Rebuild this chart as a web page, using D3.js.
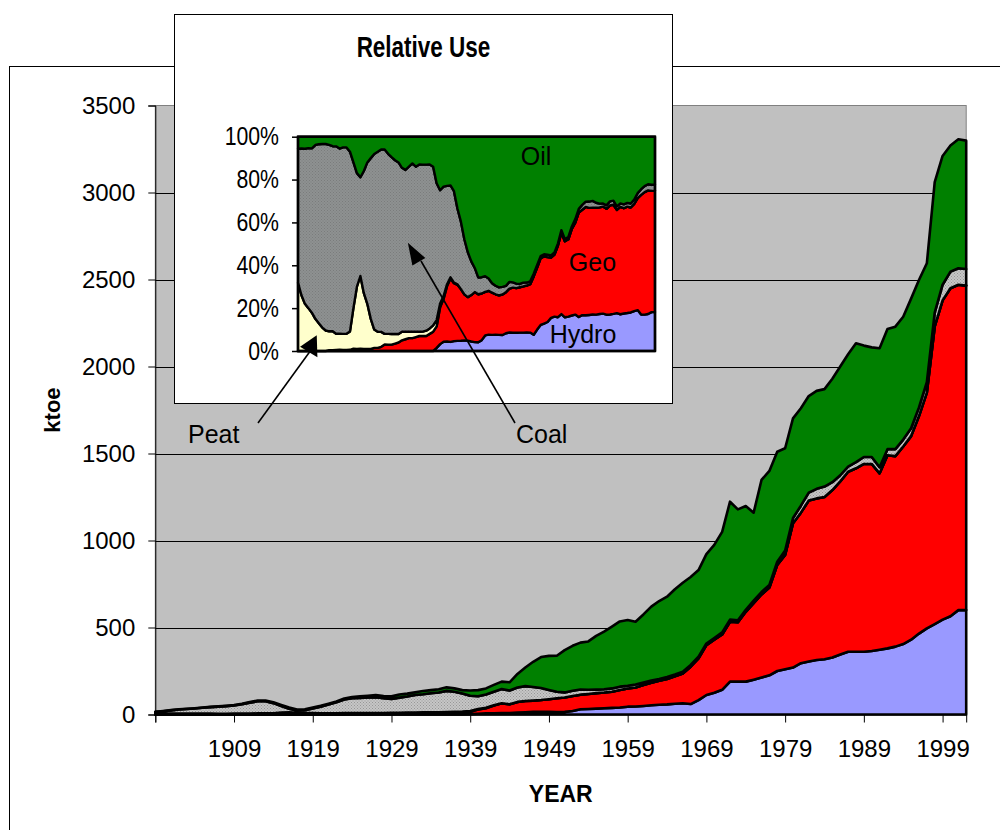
<!DOCTYPE html>
<html lang="en">
  <head>
    <meta charset="UTF-8" />
    <title>Energy use by source – ktoe</title>
    <script src="https://d3js.org/d3.v7.min.js"></script>
    <style>
      body {
        margin: 0;
        background: #fff;
      }
      svg {
        display: block;
      }
      text {
        font-family: 'Liberation Sans', Arial, sans-serif;
        fill: #000;
      }
    </style>
  </head>
  <body>
    <svg width="1000" height="830"></svg>

    <script>
      // yearly values, ktoe, 1899 - 2002
      const years = d3.range(1899, 2003);

      const hydro = [
        0, 0, 0, 0, 0, 0, 0, 0, 0, 0, 0, 0, 0, 0, 0, 0, 0, 0, 0, 0,
        0, 0, 0, 0, 0, 0, 0, 0, 0, 0, 0, 0, 0, 0, 0, 0, 0, 0, 0, 0,
        2, 4.5, 6.5, 7.5, 8, 8.5, 11, 13, 15, 16,
        15, 14, 15, 20, 30, 32, 34, 36, 38, 40,
        45, 46, 49, 53, 56, 58, 62, 65, 60, 83,
        112, 125, 142, 189, 189, 189, 200, 212, 225, 250,
        260, 270, 295, 305, 313, 318, 328, 345, 361, 361,
        361, 365, 372, 380, 390, 405, 430, 465, 495, 520,
        545, 565, 600, 600,
      ];

      const geo = [
        0, 0, 0, 0, 0, 0, 0, 0, 0,
        0.2, 0.2, 0.3, 0.4, 0.4, 0.4, 0.4, 0.6, 0.4, 0.3,
        0.3, 0.4, 0.5, 0.9, 1.1, 1.8, 3.0, 3.1, 3.2, 3.9,
        4.2, 5.2, 6.3, 7.2, 7.7, 8.8, 9.8, 10.2, 10.9, 12.0,
        12.6, 13.8, 24, 30, 44, 56, 50, 61, 65, 65,
        67, 73, 79, 83, 86, 84, 86, 89, 90, 93,
        101, 104, 109, 121, 129, 138, 146, 158, 171, 215,
        240, 287, 305, 318, 344, 341, 401, 440, 478, 505,
        610, 657, 829, 865, 925, 929, 932, 962, 995, 1034,
        1054, 1079, 1075, 1014, 1110, 1095, 1135, 1170, 1250, 1355,
        1710, 1835, 1885, 1870, 1865,
      ];

      const peat = [
        5.1, 5.2, 5.5, 6.0, 5.9, 5.4, 5.2, 4.8, 4.5, 4.4,
        4.8, 4.7, 5.4, 6.0, 6.0, 6.0, 10.5, 11.6, 9.5, 7.8,
        8.4, 7.0, 5.3, 5.6, 6.4, 5.0, 5.2, 5.4, 5.0, 4.2,
        4.2, 4.0, 3.6, 3.8, 3.4, 2.8, 2.9, 3.9, 3.8, 4.2,
        4.1, 2.5, 2, 1.5, 1, 0.5, 0.5,
        0, 0, 0, 0, 0, 0, 0, 0, 0, 0, 0, 0, 0, 0, 0, 0, 0, 0, 0,
        0, 0, 0, 0, 0, 0, 0, 0, 0, 0, 0, 0, 0, 0, 0, 0, 0, 0, 0,
        0, 0, 0, 0, 0, 0, 0, 0, 0, 0, 0, 0, 0, 0, 0, 0, 0, 0, 0,
      ];

      const coal = [
        10.0, 13.7, 18.1, 22.4, 25.3, 29.2, 33.4, 37.6, 40.9, 43.6,
        46.7, 54.3, 62.3, 69.6, 69.6, 58.8, 37.4, 21.2, 12.9, 17.1,
        26.4, 37.5, 50.8, 63.0, 78.2, 86.0, 87.4, 89.1, 90.7, 84.8,
        79.6, 86.8, 92.4, 100.5, 104.0, 109.2, 113.1, 120.9, 114.8, 103.6,
        88, 74, 76.5, 78, 81, 79, 82.5, 85, 78, 69,
        53, 38, 29, 30, 30, 24, 20, 19, 19, 19,
        16, 17, 14, 13, 10, 12, 10, 10, 10, 10,
        9, 10, 12, 12, 12, 12, 14, 14, 15, 18,
        25, 30, 40, 45, 55, 60, 45, 35, 30, 35,
        40, 40, 35, 35, 40, 40, 45, 50, 60, 80,
        90, 95, 95, 95,
      ];

      const oil = [
        0.9, 1.1, 1.4, 1.6, 1.8, 1.4, 1.4, 1.5, 1.6, 1.9,
        2.4, 2.8, 4.0, 4.0, 4.0, 4.9, 6.6, 6.8, 5.3, 4.8,
        4.8, 5.0, 5.0, 5.3, 5.5, 6.0, 8.3, 10.3, 12.3, 12.7,
        15.1, 17.8, 16.8, 16.0, 18.9, 18.2, 18.9, 20.3, 19.5, 19.6,
        30, 35, 35, 39, 43, 47, 78, 107, 145, 178,
        196, 207, 243, 259, 269, 278, 309, 331, 355, 375,
        378, 361, 391, 425, 448, 461, 490, 511, 505, 497,
        514, 535, 578, 678, 637, 596, 506, 644, 655, 632,
        588, 573, 560, 555, 563, 560, 595, 625, 645, 683,
        640, 630, 684, 690, 704, 706, 745, 732, 683, 750,
        740, 725, 741, 738,
      ];

      const keys = ['hydro', 'geo', 'peat', 'coal', 'oil'];
      const yTicks = [0, 500, 1000, 1500, 2000, 2500, 3000, 3500];
      const xTicks = [1899, 1909, 1919, 1929, 1939, 1949, 1959, 1969, 1979, 1989, 1999];
      const pctTicks = [0, 0.2, 0.4, 0.6, 0.8, 1];

      const rows = years.map((yr, i) => ({
        year: yr,
        hydro: hydro[i],
        geo: geo[i],
        peat: peat[i],
        coal: coal[i],
        oil: oil[i],
      }));

      const svg = d3.select('svg');
      const defs = svg.append('defs');

      // stippled fills for coal
      function stipple(id, base, dot) {
        const p = defs
          .append('pattern')
          .attr('id', id)
          .attr('width', 3)
          .attr('height', 3)
          .attr('patternUnits', 'userSpaceOnUse');
        p.append('rect').attr('width', 3).attr('height', 3).attr('fill', base);
        p.append('rect').attr('width', 1).attr('height', 1).attr('fill', dot);
        p.append('rect').attr('x', 1.5).attr('y', 1.5).attr('width', 1).attr('height', 1).attr('fill', dot);
      }
      stipple('coalMain', '#c6c6c6', '#979797');
      stipple('coalInset', '#8e9191', '#7a7c7c');

      const colorMain = {
        hydro: '#9999ff',
        geo: '#ff0000',
        peat: '#ffffcc',
        coal: 'url(#coalMain)',
        oil: '#008000',
      };
      const colorInset = Object.assign({}, colorMain, { coal: 'url(#coalInset)' });

      // outer chart frame
      svg
        .append('rect')
        .attr('x', 9.5)
        .attr('y', 66.5)
        .attr('width', 1000)
        .attr('height', 800)
        .attr('fill', '#fff')
        .attr('stroke', '#000');

      // ---------- main chart ----------
      const margin = { top: 105.5, left: 155.3 },
        width = 810.9,
        height = 609;

      const x = d3.scaleLinear().domain([1899, 2002]).range([margin.left, margin.left + width]);
      const y = d3.scaleLinear().domain([0, 3500]).range([margin.top + height, margin.top]);

      svg
        .append('rect')
        .attr('x', margin.left)
        .attr('y', margin.top)
        .attr('width', width)
        .attr('height', height)
        .attr('fill', '#c0c0c0')
        .attr('stroke', '#808080');

      svg
        .append('g')
        .selectAll('line')
        .data(yTicks.filter((d) => d > 0 && d < 3500))
        .join('line')
        .attr('x1', margin.left)
        .attr('x2', margin.left + width)
        .attr('y1', (d) => Math.round(y(d)) + 0.5)
        .attr('y2', (d) => Math.round(y(d)) + 0.5)
        .attr('stroke', '#000');

      const series = d3.stack().keys(keys)(rows);

      const area = d3
        .area()
        .x((d) => x(d.data.year))
        .y0((d) => y(d[0]))
        .y1((d) => y(d[1]));

      svg
        .append('g')
        .selectAll('path')
        .data(series)
        .join('path')
        .attr('d', area)
        .attr('fill', (d) => colorMain[d.key])
        .attr('stroke', '#000')
        .attr('stroke-width', 2.6)
        .attr('stroke-linejoin', 'round');

      // axes
      const yAxis = svg
        .append('g')
        .attr('transform', `translate(${margin.left},0)`)
        .call(d3.axisLeft(y).tickValues(yTicks).tickFormat(d3.format('d')).tickSize(7).tickPadding(13));
      const xAxis = svg
        .append('g')
        .attr('transform', `translate(0,${margin.top + height})`)
        .call(
          d3
            .axisBottom(x)
            .tickValues(xTicks)
            .tickSize(8)
            .tickPadding(17)
            .tickFormat((d) => (d > 1899 ? d : '')),
        );
      [yAxis, xAxis].forEach((g) => {
        g.attr('font-size', 24).attr('font-family', "'Liberation Sans', Arial, sans-serif");
        g.selectAll('line, path').attr('stroke', '#000');
      });

      svg
        .append('text')
        .attr('transform', `translate(60,${margin.top + height / 2}) rotate(-90)`)
        .attr('text-anchor', 'middle')
        .attr('font-weight', 'bold')
        .attr('font-size', 22)
        .text('ktoe');

      svg
        .append('text')
        .attr('x', margin.left + width / 2)
        .attr('y', 802)
        .attr('text-anchor', 'middle')
        .attr('font-weight', 'bold')
        .attr('font-size', 23)
        .text('YEAR');

      // ---------- inset: relative use ----------
      svg
        .append('rect')
        .attr('x', 174.5)
        .attr('y', 14.5)
        .attr('width', 498)
        .attr('height', 389)
        .attr('fill', '#fff')
        .attr('stroke', '#000');

      svg
        .append('text')
        .attr('transform', 'translate(423.5,56.5) scale(0.75,1)')
        .attr('text-anchor', 'middle')
        .attr('font-weight', 'bold')
        .attr('font-size', 30)
        .text('Relative Use');

      const xIn = d3.scaleLinear().domain([1899, 2002]).range([298, 655]);
      const yIn = d3.scaleLinear().domain([0, 1]).range([351, 136.7]);

      const seriesIn = d3.stack().keys(keys).offset(d3.stackOffsetExpand)(rows);
      const areaIn = d3
        .area()
        .x((d) => xIn(d.data.year))
        .y0((d) => yIn(d[0]))
        .y1((d) => yIn(d[1]));

      svg
        .append('g')
        .selectAll('path')
        .data(seriesIn)
        .join('path')
        .attr('d', areaIn)
        .attr('fill', (d) => colorInset[d.key])
        .attr('stroke', '#000')
        .attr('stroke-width', 2.4)
        .attr('stroke-linejoin', 'round');

      svg
        .append('rect')
        .attr('x', 298)
        .attr('y', 136.7)
        .attr('width', 357)
        .attr('height', 214.3)
        .attr('fill', 'none')
        .attr('stroke', '#000')
        .attr('stroke-width', 2.4);

      const pctAxis = svg
        .append('g')
        .attr('transform', 'translate(298,0)')
        .call(d3.axisLeft(yIn).tickValues(pctTicks).tickFormat(d3.format('.0%')).tickSize(6));
      pctAxis.select('.domain').remove();
      pctAxis.selectAll('line').attr('stroke', '#000').attr('stroke-width', 1.5);
      pctAxis
        .selectAll('text')
        .attr('font-size', 25)
        .attr('font-family', "'Liberation Sans', Arial, sans-serif")
        .attr('x', -19 / 0.85)
        .attr('transform', 'scale(0.85,1)');

      const insetLabels = [
        { name: 'Oil', x: 536, y: 165 },
        { name: 'Geo', x: 592.5, y: 270.5 },
        { name: 'Hydro', x: 583, y: 343 },
      ];
      svg
        .append('g')
        .selectAll('text')
        .data(insetLabels)
        .join('text')
        .attr('x', (d) => d.x)
        .attr('y', (d) => d.y)
        .attr('text-anchor', 'middle')
        .attr('font-size', 25)
        .text((d) => d.name);

      // ---------- callouts ----------
      svg.append('text').attr('x', 188).attr('y', 443).attr('font-size', 25).text('Peat');
      svg.append('text').attr('x', 516).attr('y', 443).attr('font-size', 25).text('Coal');

      function head(tip, base, half) {
        const dx = tip[0] - base[0],
          dy = tip[1] - base[1];
        const len = Math.hypot(dx, dy);
        const px = (-dy / len) * half,
          py = (dx / len) * half;
        return [tip, [base[0] + px, base[1] + py], [base[0] - px, base[1] - py]];
      }

      const peatTip = [xIn(1899.6), yIn(0.02)];
      const coalTip = [xIn(1930.7), yIn(0.505)];

      const callouts = [
        { from: [258, 423], to: [311, 350], tip: peatTip, base: [peatTip[0] + 17, peatTip[1] - 0.5], half: 11 },
        { from: [515, 423], to: [421, 261], tip: coalTip, base: [coalTip[0] + 11, coalTip[1] + 19], half: 7.5 },
      ];

      const arrows = svg.append('g');
      arrows
        .selectAll('line')
        .data(callouts)
        .join('line')
        .attr('x1', (d) => d.from[0])
        .attr('y1', (d) => d.from[1])
        .attr('x2', (d) => d.to[0])
        .attr('y2', (d) => d.to[1])
        .attr('stroke', '#000')
        .attr('stroke-width', 1.6);
      arrows
        .selectAll('polygon')
        .data(callouts)
        .join('polygon')
        .attr('points', (d) => head(d.tip, d.base, d.half).join(' '))
        .attr('fill', '#000');
    </script>
  </body>
</html>
